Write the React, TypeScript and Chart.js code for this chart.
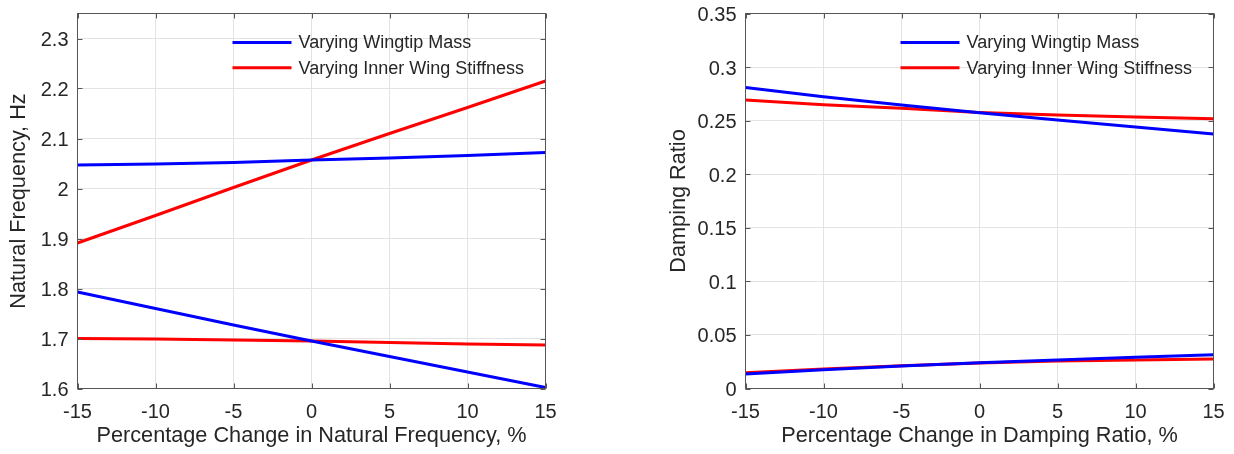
import React, { useEffect, useRef } from "react";
import { Chart, registerables } from "chart.js";

Chart.register(...registerables);

// ---------- data ----------
const pctChange = [-15, -10, -5, 0, 5, 10, 15];
const xTickValues = [-15, -10, -5, 0, 5, 10, 15];
const seriesNames = ["Varying Wingtip Mass", "Varying Inner Wing Stiffness"];
const seriesColors = ["#0000ff", "#ff0000"];

// Left panel: natural frequency (Hz)
const freqMassUpper = [2.047, 2.049, 2.052, 2.057, 2.061, 2.066, 2.072];
const freqStiffUpper = [1.891, 1.946, 2.002, 2.057, 2.110, 2.162, 2.215];
const freqMassLower = [1.793, 1.760, 1.727, 1.695, 1.664, 1.633, 1.602];
const freqStiffLower = [1.700, 1.699, 1.697, 1.695, 1.692, 1.689, 1.687];
const freqTicks = [1.6, 1.7, 1.8, 1.9, 2, 2.1, 2.2, 2.3];
const freqRange = [1.6, 2.35];

// Right panel: damping ratio
const dampMassUpper = [0.281, 0.2724, 0.2646, 0.2574, 0.2506, 0.2441, 0.2375];
const dampStiffUpper = [0.2693, 0.2649, 0.2615, 0.2576, 0.2553, 0.2534, 0.2518];
const dampMassLower = [0.0135, 0.0175, 0.021, 0.0241, 0.0266, 0.0291, 0.0316];
const dampStiffLower = [0.0148, 0.0182, 0.0212, 0.0238, 0.0257, 0.0266, 0.0275];
const dampTicks = [0, 0.05, 0.1, 0.15, 0.2, 0.25, 0.3, 0.35];
const dampRange = [0, 0.35];

// ---------- styling ----------
const FONT = "'Liberation Sans', Arial, Helvetica, sans-serif";
const TEXT = "#262626";
const AXIS = "#555555";
const GRID = "#e3e3e3";

type Panel = {
  xTitle: string;
  yTitle: string;
  series: { values: number[]; color: string }[];
  yTicks: number[];
  yRange: number[];
  yAxisWidth: number;
  padRight: number;
  yTitlePad: number;
};

const fmt = (v: number) => String(+(+v).toFixed(4));

const boxPlugin = {
  id: "matlabBox",
  afterDatasetsDraw(chart: any) {
    const { ctx, chartArea: a, scales } = chart;
    const tl = 5;
    ctx.save();
    ctx.strokeStyle = AXIS;
    ctx.lineWidth = 1;
    ctx.beginPath();
    scales.x.ticks.forEach((t: any) => {
      const x = Math.round(scales.x.getPixelForValue(t.value)) + 0.5;
      ctx.moveTo(x, a.bottom);
      ctx.lineTo(x, a.bottom - tl);
      ctx.moveTo(x, a.top);
      ctx.lineTo(x, a.top + tl);
    });
    scales.y.ticks.forEach((t: any) => {
      const y = Math.round(scales.y.getPixelForValue(t.value)) + 0.5;
      ctx.moveTo(a.left, y);
      ctx.lineTo(a.left + tl, y);
      ctx.moveTo(a.right, y);
      ctx.lineTo(a.right - tl, y);
    });
    ctx.stroke();
    ctx.strokeRect(a.left, a.top, a.right - a.left, a.bottom - a.top);

    // legend (MATLAB style, no box)
    ctx.font = `18px ${FONT}`;
    ctx.textBaseline = "middle";
    ctx.textAlign = "left";
    const rows = [a.top + 29, a.top + 54.3];
    seriesNames.forEach((name, i) => {
      const y = rows[i];
      ctx.strokeStyle = seriesColors[i];
      ctx.lineWidth = 3;
      ctx.beginPath();
      ctx.moveTo(a.left + 155, y);
      ctx.lineTo(a.left + 214, y);
      ctx.stroke();
      ctx.fillStyle = TEXT;
      ctx.fillText(name, a.left + 221, y + 1);
    });
    ctx.restore();
  },
};

function PanelChart({ p }: { p: Panel }) {
  const ref = useRef<HTMLCanvasElement>(null);
  useEffect(() => {
    if (!ref.current) return;
    const chart = new Chart(ref.current, {
      type: "line",
      data: {
        datasets: p.series.map((s) => ({
          data: pctChange.map((x, i) => ({ x, y: s.values[i] })),
          borderColor: s.color,
          backgroundColor: s.color,
          borderWidth: 3,
          pointRadius: 0,
          tension: 0,
          fill: false,
        })),
      },
      options: {
        animation: false,
        responsive: false,
        events: [],
        layout: { padding: { top: 13.5, right: p.padRight, left: 0, bottom: 0 } },
        plugins: { legend: { display: false }, tooltip: { enabled: false } },
        scales: {
          x: {
            type: "linear",
            min: -15,
            max: 15,
            afterBuildTicks: (s: any) => {
              s.ticks = xTickValues.map((v) => ({ value: v }));
            },
            afterFit: (s: any) => {
              s.height = 65.5;
              s.paddingLeft = 0;
              s.paddingRight = 0;
            },
            grid: { color: GRID, drawTicks: false, lineWidth: 1 },
            border: { display: false },
            ticks: {
              autoSkip: false,
              maxRotation: 0,
              padding: 12,
              color: TEXT,
              font: { family: FONT, size: 20 },
              callback: (v: any) => fmt(v),
            },
            title: {
              display: true,
              text: p.xTitle,
              color: TEXT,
              font: { family: FONT, size: 21.7, lineHeight: 1 },
              padding: { top: 0, bottom: 7 },
            },
          },
          y: {
            type: "linear",
            min: p.yRange[0],
            max: p.yRange[1],
            afterBuildTicks: (s: any) => {
              s.ticks = p.yTicks.map((v) => ({ value: v }));
            },
            afterFit: (s: any) => {
              s.width = p.yAxisWidth;
              s.paddingTop = 0;
              s.paddingBottom = 0;
            },
            grid: { color: GRID, drawTicks: false, lineWidth: 1 },
            border: { display: false },
            ticks: {
              autoSkip: false,
              padding: 9,
              labelOffset: 2,
              color: TEXT,
              font: { family: FONT, size: 20 },
              callback: (v: any) => fmt(v),
            },
            title: {
              display: true,
              text: p.yTitle,
              color: TEXT,
              font: { family: FONT, size: 21.7, lineHeight: 1 },
              padding: { top: p.yTitlePad, bottom: 0 },
            },
          },
        },
      },
      plugins: [boxPlugin],
    } as any);
    return () => chart.destroy();
  }, [p]);
  return <canvas ref={ref} width={617} height={454} style={{ display: "block", width: 617, height: 454 }} />;
}

const leftPanel: Panel = {
  xTitle: "Percentage Change in Natural Frequency, %",
  yTitle: "Natural Frequency, Hz",
  series: [
    { values: freqMassUpper, color: seriesColors[0] },
    { values: freqMassLower, color: seriesColors[0] },
    { values: freqStiffUpper, color: seriesColors[1] },
    { values: freqStiffLower, color: seriesColors[1] },
  ],
  yTicks: freqTicks,
  yRange: freqRange,
  yAxisWidth: 77.5,
  padRight: 71.5,
  yTitlePad: 8,
};

const rightPanel: Panel = {
  xTitle: "Percentage Change in Damping Ratio, %",
  yTitle: "Damping Ratio",
  series: [
    { values: dampMassUpper, color: seriesColors[0] },
    { values: dampMassLower, color: seriesColors[0] },
    { values: dampStiffUpper, color: seriesColors[1] },
    { values: dampStiffLower, color: seriesColors[1] },
  ],
  yTicks: dampTicks,
  yRange: dampRange,
  yAxisWidth: 128.5,
  padRight: 20.5,
  yTitlePad: 51,
};

export default function App() {
  return (
    <div style={{ position: "absolute", left: 0, top: 0, width: 1234, height: 454, background: "#fff" }}>
      <div style={{ position: "absolute", left: 0, top: 0 }}>
        <PanelChart p={leftPanel} />
      </div>
      <div style={{ position: "absolute", left: 617, top: 0 }}>
        <PanelChart p={rightPanel} />
      </div>
    </div>
  );
}
